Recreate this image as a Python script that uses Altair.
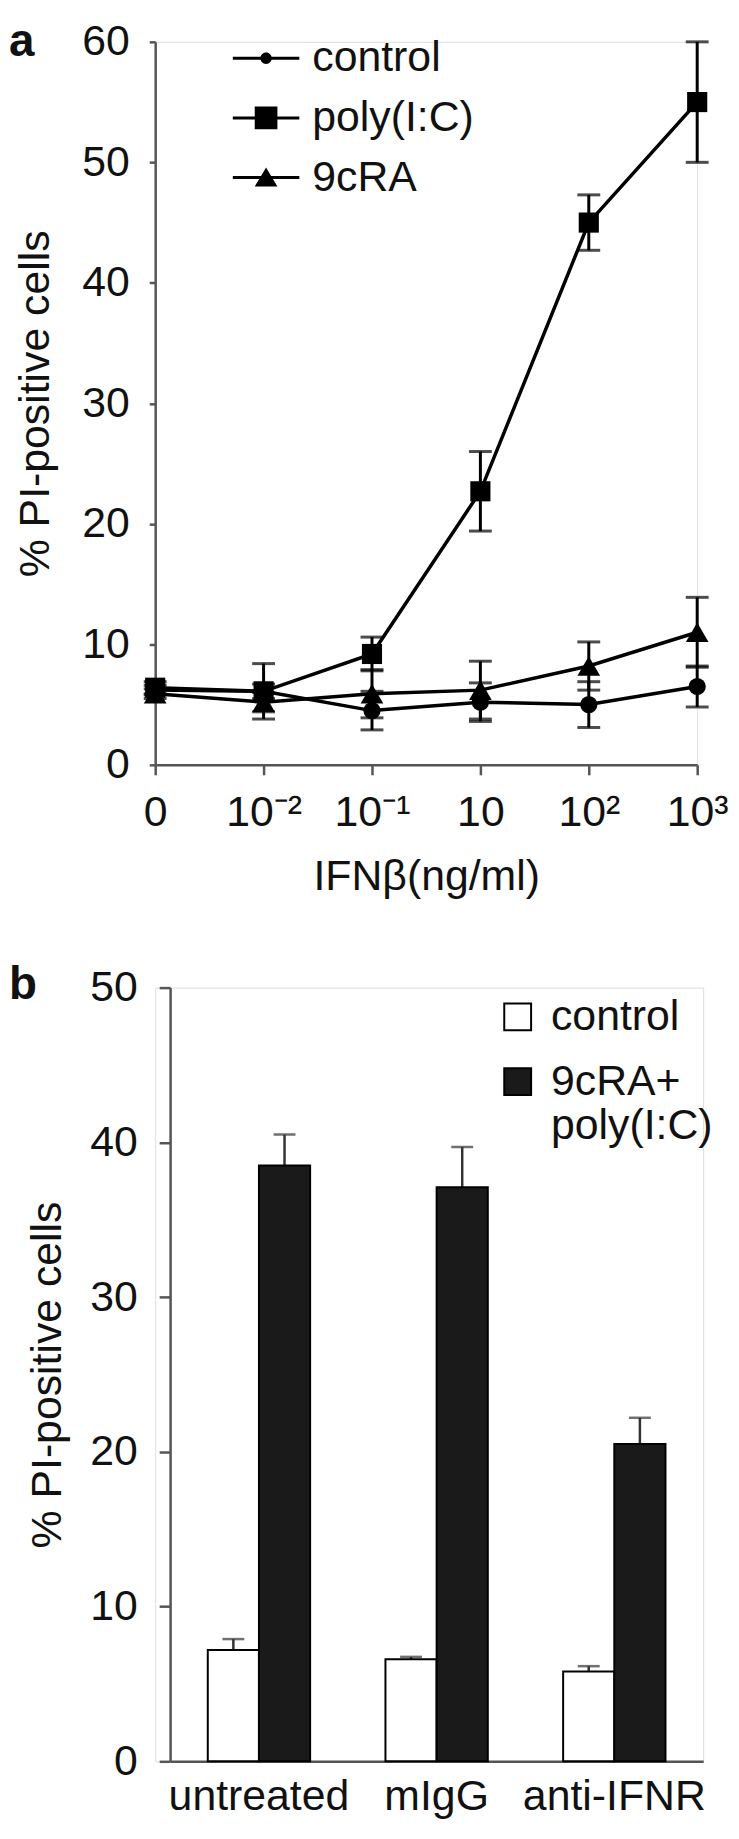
import altair as alt
import pandas as pd

FONT = "Liberation Sans"

# ---------------- panel a data ----------------
dose_labels = ["0", "10⁻²", "10⁻¹", "10", "10²", "10³"]
series_a = ["control", "poly(I:C)", "9cRA"]
control_mean = [6.2, 6.1, 4.5, 5.2, 5.0, 6.5]
control_err = [0.4, 0.6, 1.6, 1.6, 1.9, 1.7]
poly_mean = [6.4, 6.1, 9.2, 22.7, 45.0, 55.0]
poly_err = [0.5, 2.3, 1.4, 3.3, 2.3, 5.0]
ra_mean = [5.9, 5.2, 5.9, 6.2, 8.2, 11.0]
ra_err = [0.4, 0.8, 2.0, 2.4, 2.0, 2.9]

# ---------------- panel b data ----------------
groups_b = ["untreated", "mIgG", "anti-IFNR"]
series_b = ["control", "9cRA+ poly(I:C)"]
ctrl_b_mean = [7.2, 6.6, 5.8]
ctrl_b_err = [0.7, 0.15, 0.35]
trt_b_mean = [38.5, 37.1, 20.5]
trt_b_err = [2.0, 2.6, 1.7]

rows_a = []
for s, means, errs in zip(series_a, [control_mean, poly_mean, ra_mean],
                          [control_err, poly_err, ra_err]):
    for i, (m, e) in enumerate(zip(means, errs)):
        rows_a.append({"xi": i, "series": s, "mean": m, "lo": m - e, "hi": m + e})
df_a = pd.DataFrame(rows_a)

rows_b = []
for s, means, errs in zip(series_b, [ctrl_b_mean, trt_b_mean], [ctrl_b_err, trt_b_err]):
    for g, m, e in zip(groups_b, means, errs):
        rows_b.append({"group": g, "series": s, "mean": m, "hi": m + e})
df_b = pd.DataFrame(rows_b)

AX = "#555555"
TXT = "#111111"

label_expr = "[" + ",".join("'" + l + "'" for l in dose_labels) + "][datum.value]"

xa = alt.X("xi:Q", scale=alt.Scale(domain=[0, 5], nice=False, zero=False),
           axis=alt.Axis(values=list(range(len(dose_labels))), labelExpr=label_expr,
                         title="IFNβ(ng/ml)", grid=False, tickSize=10, labelPadding=17,
                         titlePadding=21, labelFlush=False, labelOverlap=False))
ya = alt.Y("mean:Q", scale=alt.Scale(domain=[0, 60], nice=False),
           axis=alt.Axis(values=[0, 10, 20, 30, 40, 50, 60], title="% PI-positive cells",
                         grid=False, tickSize=6, labelPadding=20, titlePadding=24))

base_a = alt.Chart(df_a)
lines = base_a.mark_line(color="black", strokeWidth=3.5).encode(x=xa, y=ya, detail="series:N")
err_a = base_a.mark_rule(color="black", strokeWidth=3).encode(x=xa, y="lo:Q", y2="hi:Q")
cap_lo = base_a.mark_tick(orient="horizontal", size=23, thickness=3, color="black").encode(x=xa, y="lo:Q")
cap_hi = base_a.mark_tick(orient="horizontal", size=23, thickness=3, color="black").encode(x=xa, y="hi:Q")
pts = base_a.mark_point(filled=True, color="black", opacity=1).encode(
    x=xa, y=ya,
    shape=alt.Shape("series:N", scale=alt.Scale(domain=series_a, range=["circle", "square", "triangle-up"]), legend=None),
    size=alt.Size("series:N", scale=alt.Scale(domain=series_a, range=[300, 520, 460]), legend=None),
)

# legend symbols: line segment (thin filled bar) with a marker in the middle
path_c = "M-2.23,-0.1H2.23V0.1H-2.23ZM-0.38,0A0.38,0.38,0,1,1,0.38,0A0.38,0.38,0,1,1,-0.38,0Z"
path_s = "M-2.23,-0.1H2.23V0.1H-2.23ZM-0.76,-0.76H0.76V0.76H-0.76Z"
path_t = "M-2.23,-0.1H2.23V0.1H-2.23ZM0,-0.68L0.76,0.6H-0.76Z"

legend_layer = base_a.mark_point(filled=True, color="black", opacity=0, size=900).encode(
    x=xa, y=ya,
    shape=alt.Shape("series:N", scale=alt.Scale(domain=series_a, range=[path_c, path_s, path_t]),
                    legend=alt.Legend(title=None, orient="none", legendX=90, legendY=-5, padding=0,
                                      labelFontSize=43, labelFont=FONT, labelColor=TXT, labelOffset=25,
                                      rowPadding=16, symbolSize=900, symbolOpacity=1,
                                      symbolFillColor="black", labelLimit=400)),
)

letter_a = alt.Chart(pd.DataFrame({"t": ["a"]})).mark_text(
    fontSize=46, fontWeight="bold", align="left", baseline="alphabetic", color=TXT, font=FONT
).encode(text="t:N", x=alt.value(-147), y=alt.value(14))

panel_a = alt.layer(lines, err_a, cap_lo, cap_hi, pts, legend_layer, letter_a).resolve_scale(
    shape="independent", size="independent"
).properties(width=545, height=727)

# ---------------- panel b ----------------
# panel b's y axis sits 15px further right than panel a's
B_SHIFT = 15
B_W = 536
xb = alt.X("group:N", sort=groups_b,
           scale=alt.Scale(paddingInner=0.424, paddingOuter=0.212, range=[B_SHIFT, B_SHIFT + B_W]),
           axis=alt.Axis(title=None, ticks=False, labelAngle=0, labelPadding=14,
                         labelOverlap=False, labelLimit=400))
xo = alt.XOffset("series:N", sort=series_b, scale=alt.Scale(paddingInner=0, paddingOuter=0))
yb = alt.Y("mean:Q", scale=alt.Scale(domain=[0, 50], nice=False),
           axis=alt.Axis(values=[0, 10, 20, 30, 40, 50], title="% PI-positive cells", grid=False,
                         tickSize=11, labelPadding=22, titlePadding=20, offset=-B_SHIFT))

base_b = alt.Chart(df_b)
bars = base_b.mark_bar(stroke="black", strokeWidth=2).encode(
    x=xb, xOffset=xo, y=yb,
    color=alt.Color("series:N", sort=series_b,
                    scale=alt.Scale(domain=series_b, range=["white", "#1a1a1a"]),
                    legend=alt.Legend(title=None, orient="none", legendX=328 + B_SHIFT, legendY=8, padding=0,
                                      labelFontSize=43, labelFont=FONT, labelColor=TXT, labelOffset=12,
                                      rowPadding=21, symbolSize=729, symbolType="square",
                                      symbolStrokeColor="black", symbolStrokeWidth=2,
                                      labelExpr="split(datum.label, ' ')", labelLimit=400)),
)
err_b = base_b.mark_rule(color="#333333", strokeWidth=2.5).encode(x=xb, xOffset=xo, y="mean:Q", y2="hi:Q")
cap_b = base_b.mark_tick(orient="horizontal", size=22, thickness=2.5, color="#333333").encode(x=xb, xOffset=xo, y="hi:Q")

letter_b = alt.Chart(pd.DataFrame({"t": ["b"]})).mark_text(
    fontSize=46, fontWeight="bold", align="left", baseline="alphabetic", color=TXT, font=FONT
).encode(text="t:N", x=alt.value(-162 + B_SHIFT), y=alt.value(11))

panel_b = alt.layer(err_b, cap_b, bars, letter_b).properties(width=B_SHIFT + B_W, height=778)

chart = alt.concat(panel_a, panel_b, columns=1).resolve_scale(
    color="independent", shape="independent", size="independent"
).resolve_legend(
    color="independent", shape="independent", size="independent"
).properties(
    spacing=62,
    padding={"left": 0, "top": 5, "right": 0, "bottom": -1},
).configure_view(stroke=None).configure(font=FONT).configure_axis(
    domainColor=AX, domainWidth=2.5, tickColor=AX, tickWidth=2.5,
    labelFontSize=43, labelColor=TXT, labelFont=FONT,
    titleFontSize=43, titleColor=TXT, titleFont=FONT, titleFontWeight="normal",
)

chart.save("out.html", embed_options={"renderer": "svg", "actions": False})
